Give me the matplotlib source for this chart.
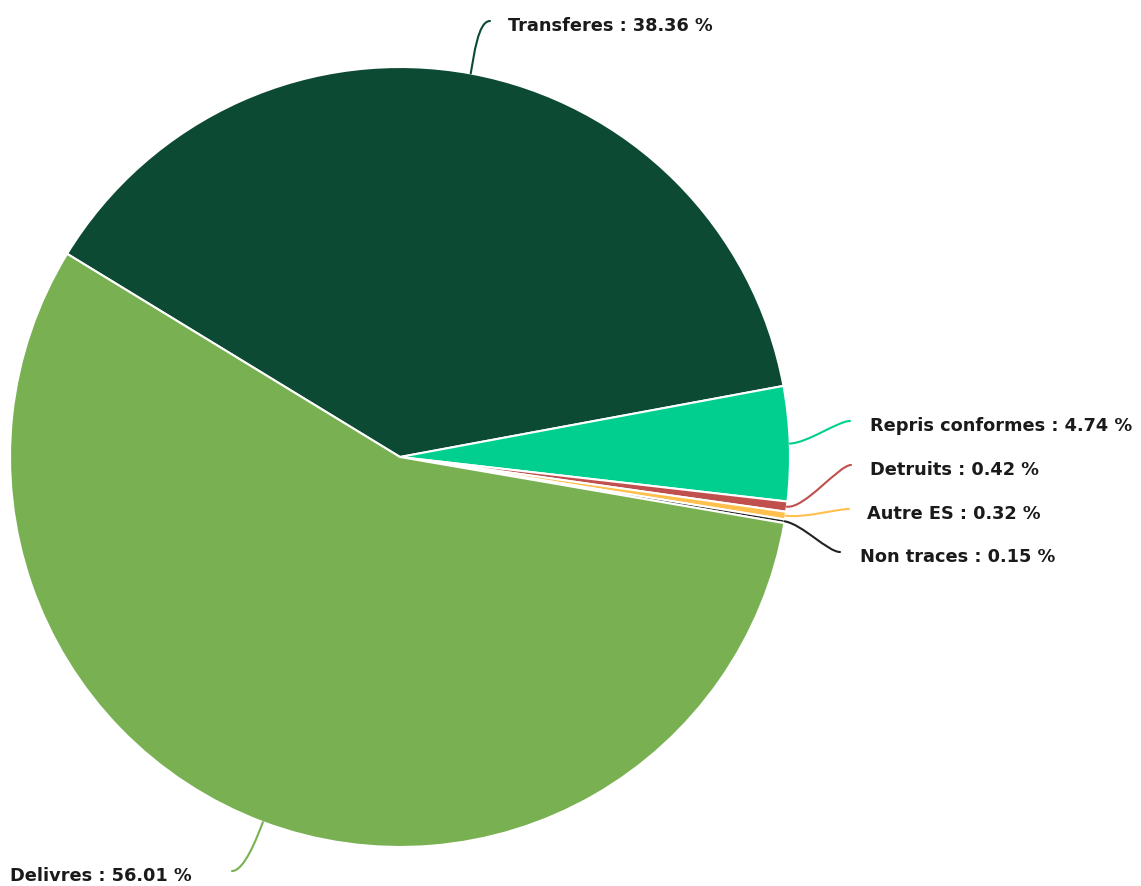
import numpy as np
import matplotlib
matplotlib.use("Agg")
import matplotlib.pyplot as plt
from matplotlib.path import Path
from matplotlib.patches import PathPatch

# Share of items by outcome (percent)
categories = ["Transferes", "Repris conformes", "Detruits", "Autre ES", "Non traces", "Delivres"]
values = [38.36, 4.74, 0.42, 0.32, 0.15, 56.01]
colors = ["#0d4a33", "#00cf8f", "#c0504d", "#ffc04d", "#222222", "#79b152"]

W, H = 1141, 887
fig = plt.figure(figsize=(W / 100, H / 100), dpi=100)
ax = fig.add_axes([0, 0, 1, 1])

cx, cy, r = 400, H - 458, 390
start = 148.6

wedges, _ = ax.pie(values, colors=colors, startangle=start, counterclock=False,
                   center=(cx, cy), radius=r, frame=True,
                   wedgeprops=dict(edgecolor="white", linewidth=1.5))
ax.set_xlim(0, W)
ax.set_ylim(0, H)
ax.set_aspect("equal")
ax.axis("off")

# label anchors (end of connector), text alignment and horizontal gap
anchors = {
    "Transferes": ((490, H - 22), "left", 18),
    "Repris conformes": ((850, H - 422), "left", 20),
    "Detruits": ((851, H - 466), "left", 19),
    "Autre ES": ((849, H - 510), "left", 18),
    "Non traces": ((840, H - 553), "left", 20),
    "Delivres": ((232, H - 872), "right", -40),
}

for w, name, val, col in zip(wedges, categories, values, colors):
    mid = np.deg2rad((w.theta1 + w.theta2) / 2)
    ux, uy = np.cos(mid), np.sin(mid)
    p0 = (cx + r * ux, cy + r * uy)
    (ex, ey), ha, gap = anchors[name]
    p1 = (cx + (r + 18) * ux, cy + (r + 18) * uy)
    side = 1 if ha == "left" else -1
    p2 = (ex - side * 12, ey)
    path = Path([p0, p1, p2, (ex, ey)],
                [Path.MOVETO, Path.CURVE4, Path.CURVE4, Path.CURVE4])
    ax.add_patch(PathPatch(path, facecolor="none", edgecolor=col, lw=1.5,
                           capstyle="round"))
    ax.text(ex + gap, ey - 4, f"{name} : {val:.2f} %", ha=ha, va="center",
            fontsize=12.8, fontweight="bold", color="#1a1a1a",
            family="DejaVu Sans")

fig.savefig("out.png", dpi=100)
